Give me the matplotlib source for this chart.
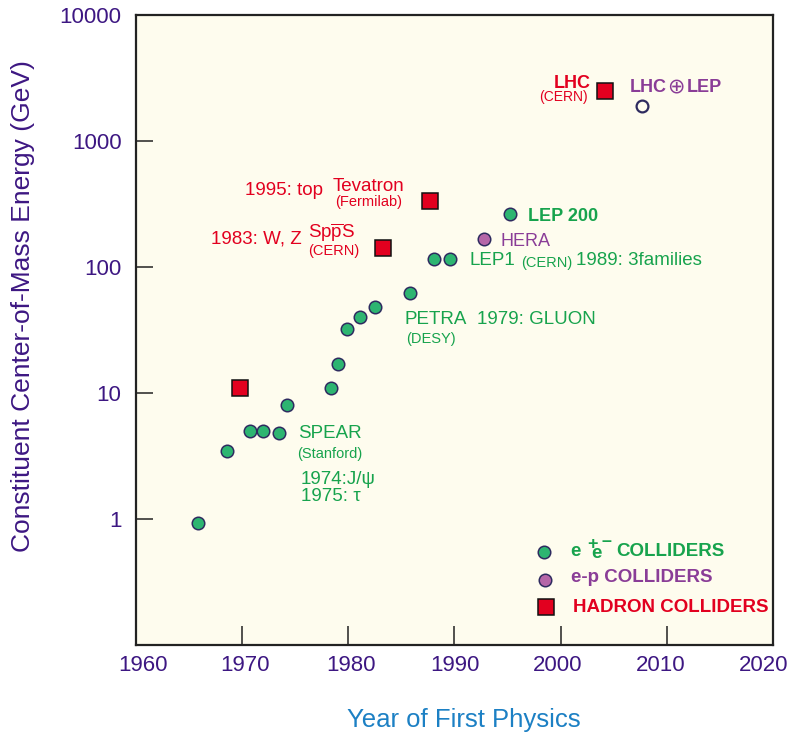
import matplotlib
matplotlib.use("Agg")
import matplotlib.pyplot as plt
from matplotlib.ticker import NullLocator, FixedLocator
from matplotlib.transforms import ScaledTranslation

plt.rcParams['font.family'] = ['Liberation Sans', 'DejaVu Sans']
plt.rcParams['mathtext.fontset'] = 'custom'
plt.rcParams['mathtext.rm'] = 'Liberation Sans'
plt.rcParams['mathtext.it'] = 'Liberation Sans:italic'
plt.rcParams['mathtext.bf'] = 'Liberation Sans:bold'

# ---------------- data ----------------
ee_years = [1965.9, 1968.6, 1970.8, 1972.0, 1973.5, 1974.3, 1978.4, 1979.1,
            1979.9, 1981.1, 1982.5, 1985.8, 1988.1, 1989.6, 1995.2]
ee_energy = [0.93, 3.45, 4.95, 4.95, 4.85, 8.1, 10.9, 17.0,
             32.0, 40.0, 48.0, 62.0, 116.0, 116.0, 264.0]

ep_years = [1992.8]
ep_energy = [167.0]

hadron_years = [1969.8, 1983.3, 1987.7, 2004.2]
hadron_energy = [11.0, 142.0, 334.0, 2490.0]

lhc_lep_years = [2007.7]
lhc_lep_energy = [1900.0]

x_ticks = [1960, 1970, 1980, 1990, 2000, 2010, 2020]
y_ticks = [1, 10, 100, 1000, 10000]
y_tick_labels = ['1', '10', '100', '1000', '10000']

# ---------------- colours ----------------
GREEN_FILL = '#2db571'
GREEN_TXT = '#17a34d'
PURPLE_FILL = '#b566a8'
PURPLE_TXT = '#8a3d97'
RED = '#e2001f'
EDGE = '#2e2b5f'
AXCOL = '#3d1782'
BG = '#fefcee'

W, H = 796, 741
fig = plt.figure(figsize=(W / 100, H / 100), dpi=100)
L, R, T_, B = 135.5, 773.0, 15.0, 645.0
ax = fig.add_axes([L / W, 1 - B / H, (R - L) / W, (B - T_) / H])
ax.set_facecolor(BG)
ax.set_yscale('log')
ax.set_xlim(1960, 2020)
ax.set_ylim(0.1, 10000)

ax.xaxis.set_major_locator(FixedLocator(x_ticks))
ax.yaxis.set_major_locator(FixedLocator(y_ticks))
ax.yaxis.set_minor_locator(NullLocator())
ax.set_xticklabels([str(t) for t in x_ticks])
ax.set_yticklabels(y_tick_labels)
ax.tick_params(axis='x', direction='in', length=14, width=1.1, color='#222222',
               labelsize=16, labelcolor=AXCOL, pad=7, top=False)
ax.tick_params(axis='y', direction='in', length=12, width=1.1, color='#222222',
               labelsize=16, labelcolor=AXCOL, pad=10, right=False)
for sp in ax.spines.values():
    sp.set_linewidth(1.6)
    sp.set_color('#222222')

# the original's year labels drift slightly inward from their ticks
label_shift_px = [8, 3, 3, 1, -3, -6, -9]
for lab, dx in zip(ax.get_xticklabels(), label_shift_px):
    lab.set_transform(lab.get_transform() +
                      ScaledTranslation(dx / 100, 0, fig.dpi_scale_trans))

ax.set_ylabel('Constituent Center-of-Mass Energy (GeV)', fontsize=19,
              color=AXCOL, va='center')
ax.yaxis.set_label_coords((23 - L) / (R - L), (B - 306) / (B - T_))
ax.set_xlabel('Year of First Physics', fontsize=18.5, color='#1c80c4', va='center')
ax.xaxis.set_label_coords((464 - L) / (R - L), (B - 720) / (B - T_))

# ---------------- data marks ----------------
ax.plot(ee_years, ee_energy, 'o', ms=9, mfc=GREEN_FILL, mec=EDGE, mew=1.1,
        zorder=3, clip_on=False)
ax.plot(ep_years, ep_energy, 'o', ms=9, mfc=PURPLE_FILL, mec=EDGE, mew=1.1,
        zorder=3)
ax.plot(hadron_years, hadron_energy, 's', ms=11, mfc=RED, mec='#111111',
        mew=1.1, zorder=3)
ax.plot(lhc_lep_years, lhc_lep_energy, 'o', ms=8.5, mfc=BG, mec=EDGE,
        mew=1.6, zorder=3)


def T(xp, yp, s, **kw):
    kw.setdefault('va', 'center')
    kw.setdefault('ha', 'left')
    ax.text((xp - L) / (R - L), (B - yp) / (B - T_), s, transform=ax.transAxes, **kw)


# ---------------- annotations ----------------
T(591, 83, 'LHC', ha='right', color=RED, fontsize=13, fontweight='bold')
T(588, 97, '(CERN)', ha='right', color=RED, fontsize=10)
T(630, 87, 'LHC', color=PURPLE_TXT, fontsize=13, fontweight='bold')
T(675.5, 86.5, '\u2295', ha='center', color=PURPLE_TXT, fontsize=15,
  family=['DejaVu Sans'])
T(687, 87, 'LEP', color=PURPLE_TXT, fontsize=13, fontweight='bold')

T(323, 190.5, '1995: top', ha='right', color=RED, fontsize=13.5)
T(368.5, 186.5, 'Tevatron', ha='center', color=RED, fontsize=13.5)
T(368.5, 202, '(Fermilab)', ha='center', color=RED, fontsize=10.5)
T(211, 238.5, '1983: W, Z', color=RED, fontsize=13.5)
T(332, 233, r'Sp$\overline{\mathrm{p}}$S', ha='center', color=RED, fontsize=13.5)
T(334, 251, '(CERN)', ha='center', color=RED, fontsize=10.5)

T(528, 216.5, 'LEP 200', color=GREEN_TXT, fontsize=13, fontweight='bold')
T(500.5, 241.5, 'HERA', color=PURPLE_TXT, fontsize=13)
T(469, 261, 'LEP1', color=GREEN_TXT, fontsize=13.5)
T(521, 263, '(CERN)', color=GREEN_TXT, fontsize=10.5)
T(576, 261, '1989: 3families', color=GREEN_TXT, fontsize=13.5)

T(404, 320, 'PETRA', color=GREEN_TXT, fontsize=13.5)
T(406, 339, '(DESY)', color=GREEN_TXT, fontsize=10.5)
T(477, 319.5, '1979: GLUON', color=GREEN_TXT, fontsize=13.5)

T(298, 434, 'SPEAR', color=GREEN_TXT, fontsize=13.5)
T(297.5, 454, '(Stanford)', color=GREEN_TXT, fontsize=10.5)
T(301, 479, '1974:J/\u03c8', color=GREEN_TXT, fontsize=13.5)
T(301, 496.5, '1975: \u03c4', color=GREEN_TXT, fontsize=13.5)

# ---------------- legend ----------------
def P(xp, yp):
    return (xp - L) / (R - L), (B - yp) / (B - T_)

lx, ly = P(544, 551.5)
ax.plot([lx], [ly], 'o', ms=9, mfc=GREEN_FILL, mec=EDGE, mew=1.1,
        transform=ax.transAxes, clip_on=False)
lx, ly = P(545, 579.5)
ax.plot([lx], [ly], 'o', ms=9, mfc=PURPLE_FILL, mec=EDGE, mew=1.1,
        transform=ax.transAxes, clip_on=False)
lx, ly = P(545.5, 606.5)
ax.plot([lx], [ly], 's', ms=11, mfc=RED, mec='#111111', mew=1.1,
        transform=ax.transAxes, clip_on=False)

T(570, 552, 'e', color=GREEN_TXT, fontsize=13.5, fontweight='bold')
T(587.5, 544, '+', color=GREEN_TXT, fontsize=13, fontweight='bold')
T(591, 553, 'e', color=GREEN_TXT, fontsize=13.5, fontweight='bold')
T(602, 541.5, '\u2013', color=GREEN_TXT, fontsize=13, fontweight='bold')
T(616.5, 551.5, 'COLLIDERS', color=GREEN_TXT, fontsize=13.5, fontweight='bold')
T(571, 578, 'e-p COLLIDERS', color=PURPLE_TXT, fontsize=13.5, fontweight='bold')
T(573, 607, 'HADRON COLLIDERS', color=RED, fontsize=13.5, fontweight='bold')

fig.savefig('out.png', dpi=100, facecolor='white')
